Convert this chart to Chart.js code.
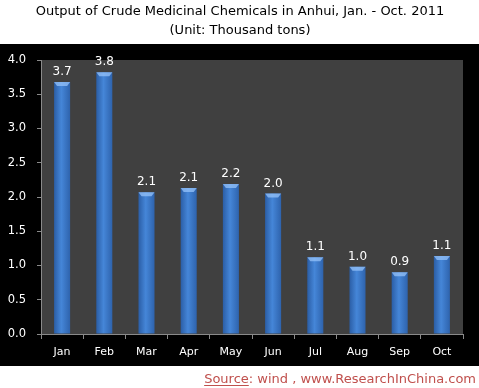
<!DOCTYPE html>
<html>
<head>
<meta charset="utf-8">
<script src="https://cdn.jsdelivr.net/npm/chart.js@4/dist/chart.umd.min.js"></script>
<style>
  html, body { margin: 0; padding: 0; background: #fff; }
  #wrap { width: 479px; height: 388px; }
</style>
</head>
<body>
<div id="wrap"><canvas id="ourChart" width="479" height="388"></canvas></div>
<script>
// data
const months = ['Jan', 'Feb', 'Mar', 'Apr', 'May', 'Jun', 'Jul', 'Aug', 'Sep', 'Oct'];
const output = [3.68, 3.82, 2.07, 2.13, 2.19, 2.05, 1.12, 0.98, 0.9, 1.14];
const yTicks = [0, 0.5, 1, 1.5, 2, 2.5, 3, 3.5, 4];

const titleText = 'Output of Crude Medicinal Chemicals in Anhui, Jan. - Oct. 2011';
const subtitleText = '(Unit: Thousand tons)';
const sourceLabel = 'Source';
const sourceRest = ': wind , www.ResearchInChina.com';

const barPct = 0.38;

// backgrounds, titles, source line and value labels
const decor = {
    id: 'decor',
    beforeDraw(chart) {
        const c = chart.ctx, a = chart.chartArea;
        c.save();
        c.fillStyle = '#fff';
        c.fillRect(0, 0, chart.width, chart.height);
        c.fillStyle = '#000';
        c.fillRect(0, 44, chart.width, 322);
        c.fillStyle = '#404040';
        c.fillRect(a.left, a.top, a.right - a.left, a.bottom - a.top);

        c.fillStyle = '#000';
        c.textAlign = 'center';
        c.textBaseline = 'middle';
        c.font = '13px "DejaVu Sans"';
        c.fillText(titleText, 240, 12);
        c.fillText(subtitleText, 240, 31);

        // source
        c.font = '13px "DejaVu Sans"';
        c.textAlign = 'left';
        c.textBaseline = 'alphabetic';
        const w1 = c.measureText(sourceLabel).width;
        const w2 = c.measureText(sourceRest).width;
        const x0 = 476 - w1 - w2;
        c.fillStyle = '#c0504d';
        c.fillText(sourceLabel, x0, 383);
        c.fillRect(x0, 385, w1, 1);
        c.fillText(sourceRest, x0 + w1, 383);
        c.restore();
    },
    afterDatasetsDraw(chart) {
        const c = chart.ctx;
        const meta = chart.getDatasetMeta(0);
        c.save();
        c.font = '12px "DejaVu Sans"';
        c.textAlign = 'center';
        c.textBaseline = 'bottom';
        meta.data.forEach((bar, i) => {
            // light cap on top of bar
            const hw = bar.width / 2;
            c.fillStyle = 'rgba(150,195,250,0.75)';
            c.beginPath();
            c.moveTo(bar.x - hw, bar.y);
            c.lineTo(bar.x + hw, bar.y);
            c.lineTo(bar.x + hw - 3, bar.y + 4);
            c.lineTo(bar.x - hw + 3, bar.y + 4);
            c.closePath();
            c.fill();
            c.fillStyle = '#fff';
            c.fillText(output[i].toFixed(1), bar.x, bar.y - 4);
        });
        c.restore();
    }
};

function barFill(ctx) {
    const chart = ctx.chart;
    const xs = chart.scales.x;
    const a = chart.chartArea;
    if (!xs || !a || ctx.dataIndex === undefined) return '#3a78c8';
    const cx = xs.getPixelForValue(ctx.dataIndex);
    const hw = (a.right - a.left) / months.length * barPct / 2;
    const g = chart.ctx.createLinearGradient(cx - hw, 0, cx + hw, 0);
    g.addColorStop(0, '#2b5ea6');
    g.addColorStop(0.45, '#4586d8');
    g.addColorStop(1, '#2e63ad');
    return g;
}

let ourCanvas = document.getElementById('ourChart');

const chartElement = new Chart(ourCanvas, {
    type: 'bar',
    data: {
        labels: months,
        datasets: [
            {
                label: 'Output',
                data: output,
                backgroundColor: barFill,
                borderWidth: 0,
                barPercentage: barPct,
                categoryPercentage: 1
            }
        ]
    },
    options: {
        responsive: false,
        animation: false,
        layout: { padding: { left: 0, top: 60, right: 16, bottom: 20 } },
        plugins: {
            legend: { display: false },
            tooltip: { enabled: false },
            title: { display: false }
        },
        scales: {
            x: {
                afterFit: s => { s.height = 34; },
                grid: {
                    display: true,
                    drawOnChartArea: false,
                    drawTicks: true,
                    tickLength: 5,
                    color: '#8a8a8a'
                },
                border: { color: '#8a8a8a', width: 1 },
                ticks: { color: '#fff', font: { family: 'DejaVu Sans', size: 11 }, padding: 7 }
            },
            y: {
                min: 0,
                max: 4,
                afterFit: s => { s.width = 41; },
                afterBuildTicks: s => { s.ticks = yTicks.map(v => ({ value: v })); },
                grid: {
                    display: true,
                    drawOnChartArea: false,
                    drawTicks: true,
                    tickLength: 4,
                    color: '#8a8a8a'
                },
                border: { color: '#8a8a8a', width: 1 },
                ticks: {
                    color: '#fff',
                    font: { family: 'DejaVu Sans', size: 11.5 },
                    padding: 11,
                    callback: v => Number(v).toFixed(1)
                }
            }
        }
    },
    plugins: [decor]
});
</script>
</body>
</html>
